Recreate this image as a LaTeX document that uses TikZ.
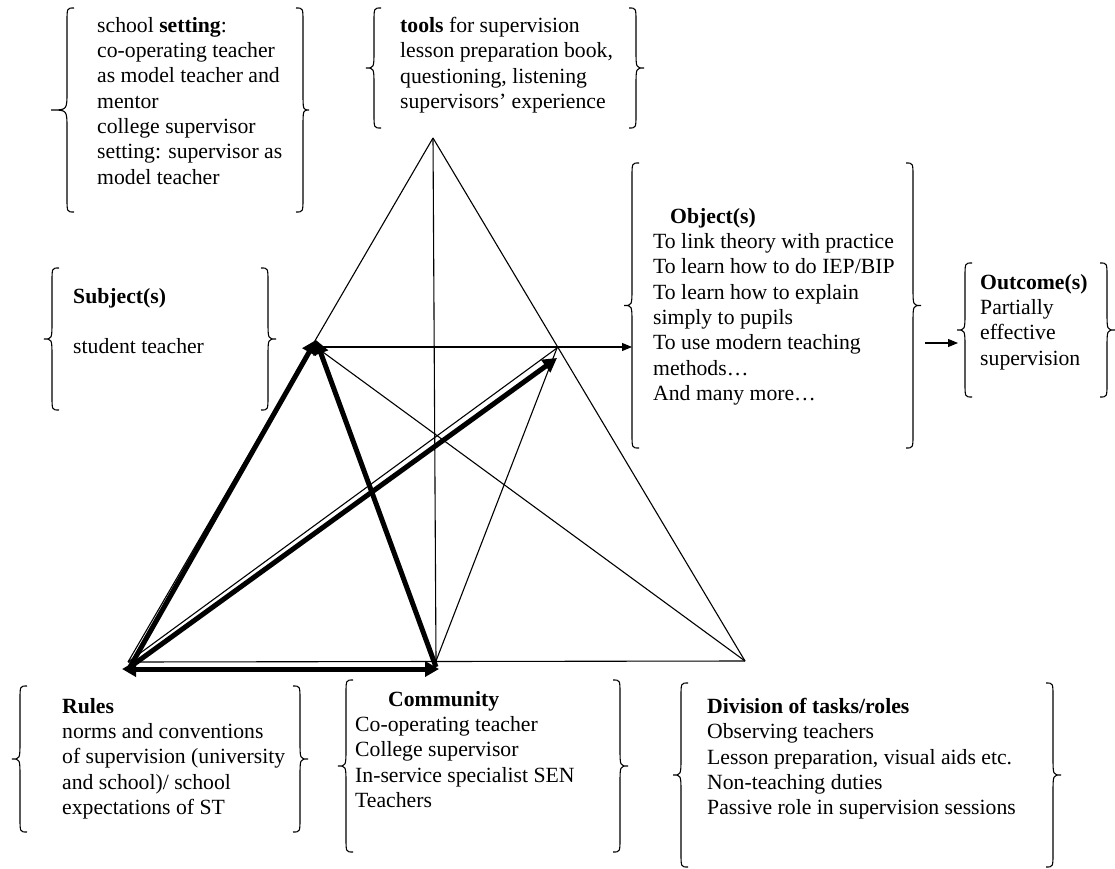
\documentclass[tikz,border=0pt]{standalone}
\usepackage{fontspec}
\setmainfont{Liberation Serif}
\usetikzlibrary{arrows.meta}
\newcommand\bracL[4][8]{%
  \draw[bracestyle] ({#2+7},#3) .. controls (#2,#3) .. (#2,{#3+14}) -- (#2,{(#3+#4)/2-18}) .. controls (#2,{(#3+#4)/2}) .. ({#2-#1},{(#3+#4)/2}) .. controls (#2,{(#3+#4)/2}) .. (#2,{(#3+#4)/2+18}) -- (#2,{#4-14}) .. controls (#2,#4) .. ({#2+7},#4);}
\newcommand\bracR[4][8]{%
  \draw[bracestyle] ({#2-7},#3) .. controls (#2,#3) .. (#2,{#3+14}) -- (#2,{(#3+#4)/2-18}) .. controls (#2,{(#3+#4)/2}) .. ({#2+#1},{(#3+#4)/2}) .. controls (#2,{(#3+#4)/2}) .. (#2,{(#3+#4)/2+18}) -- (#2,{#4-14}) .. controls (#2,#4) .. ({#2-7},#4);}
\tikzset{
  bracestyle/.style={line width=1.1pt},
  thinline/.style={line width=1.1pt},
  thinarrow/.style={line width=1.1pt,-{Triangle[length=10pt,width=8pt]}},
  thickhead/.style={line width=5pt,-{Triangle[length=14pt,width=15pt]}},
  thickboth/.style={line width=5pt,{Triangle[length=14pt,width=15pt]}-{Triangle[length=14pt,width=15pt]}},
  txt/.style={anchor=north west,align=left,inner sep=0pt,font=\fontsize{21.7}{25.3}\selectfont}
}
\begin{document}
\begin{tikzpicture}[x=1pt,y=-1pt]
\useasboundingbox[fill=white] (0,0) rectangle (1115,869);
% vertices
\coordinate (T) at (433,138);
\coordinate (S) at (316,347);
\coordinate (O) at (557,348);
\coordinate (R) at (128,662);
\coordinate (C) at (436,661);
\coordinate (D) at (745,661);
\coordinate (objtip) at (632,347);
\coordinate (outA) at (925,343);
\coordinate (outB) at (958,343);
\coordinate (Rk) at (130,667);
\coordinate (Ck) at (436,667);
\coordinate (Sk) at (316,340);
\coordinate (Ok) at (557,358);
\coordinate (hL) at (122,669);
\coordinate (hR) at (439,669);
% thin triangle lines
\draw[thinline] (T) -- (R);
\draw[thinline] (T) -- (D);
\draw[thinline] (R) -- (D);
\draw[thinline] (T) -- (C);
\draw[thinline] (S) -- (D);
\draw[thinline] (C) -- (O);
\draw[thinline] (R) -- (O);
\draw[thinarrow] (S) -- (objtip);
\draw[thinarrow] (outA) -- (outB);
% thick arrows
\draw[thickhead] (Rk) -- (Sk);
\draw[thickhead] (Ck) -- (Sk);
\draw[thickboth] (hL) -- (hR);
\draw[thickhead] (Rk) -- (Ok);
% braces
\bracL[16]{67}{8}{212}\bracR[6]{303}{8}{212}
\bracL{374}{8}{128}\bracR{636}{8}{128}
\bracL{52}{268}{410}\bracR{268}{268}{410}
\bracL{632}{163}{448}\bracR{913}{163}{448}
\bracL{965}{263}{397}\bracR{1107}{263}{397}
\bracL{20}{686}{832}\bracR{300}{686}{832}
\bracL{346}{680}{852}\bracR{620}{680}{852}
\bracL{681}{683}{867}\bracR{1053}{683}{867}
% texts
\node[txt] (setting) at (97,17) {school \textbf{setting}:\\co-operating teacher\\as model teacher and\\mentor\\college supervisor\\setting: supervisor as\\model teacher};
\node[txt] (tools) at (400,17) {\textbf{tools} for supervision\\lesson preparation book,\\questioning, listening\\supervisors’ experience};
\node[txt] (subject) at (73,288) {\textbf{Subject(s)}\\[25.3pt]student teacher};
\node[txt] (object) at (653,208) {\hspace*{17pt}\textbf{Object(s)}\\To link theory with practice\\To learn how to do IEP/BIP\\To learn how to explain\\simply to pupils\\To use modern teaching\\methods…\\And many more…};
\node[txt] (outcome) at (980,274) {\textbf{Outcome(s)}\\Partially\\effective\\supervision};
\node[txt] (rules) at (62,698) {\textbf{Rules}\\norms and conventions\\of supervision (university\\and school)/ school\\expectations of ST};
\node[txt] (community) at (355,691) {\hspace*{33pt}\textbf{Community}\\Co-operating teacher\\College supervisor\\In-service specialist SEN\\Teachers};
\node[txt] (division) at (707,698) {\textbf{Division of tasks/roles}\\Observing teachers\\Lesson preparation, visual aids etc.\\Non-teaching duties\\Passive role in supervision sessions};
\end{tikzpicture}
\end{document}
